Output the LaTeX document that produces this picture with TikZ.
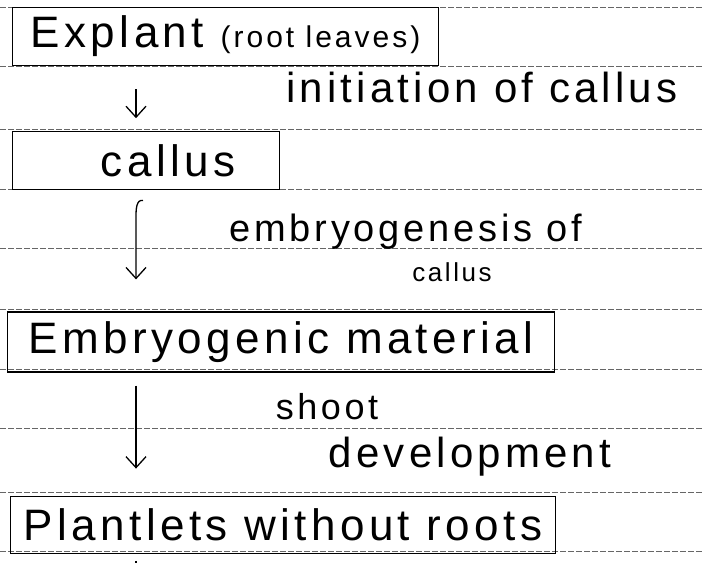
\documentclass[tikz,border=0pt]{standalone}
\usepackage{fontspec}
\setmainfont{Liberation Sans}[LetterSpace=10]
\usetikzlibrary{arrows.meta,positioning,calc}

\begin{document}
\begin{tikzpicture}[
    x=1pt, y=1pt,
    stage/.style={draw, line width=1.2pt, minimum height=58pt, inner sep=0pt,
      anchor=north west, font=\fontsize{44}{50}\selectfont},
    note/.style={inner sep=0pt, font=\fontsize{36}{40}\selectfont},
    rule/.style={black!60, dash pattern=on 6pt off 2pt, line width=0.9pt},
    arrow/.style={-{Straight Barb[length=11pt,width=20pt,line width=1.3pt]}, line width=1.3pt}
  ]
    \useasboundingbox (0,0) rectangle (702,565);
    \foreach \y in {558,499,436,376,317,256,196,137,73,14}
      \draw[rule] (0,\y) -- (702,\y);
    \coordinate (spine) at (136,565);
    \coordinate (tail) at (136,2);
    \node[stage, minimum width=426pt] (explant) at (12,558)
      {Explant {\fontsize{30}{34}\selectfont(root leaves)}};
    \node[stage, minimum width=267pt, below=65pt of explant.south west, anchor=north west] (callus)
      {\hspace*{44pt}callus};
    \node[stage, minimum width=547pt, below=121pt of callus.south west, anchor=north west,
      xshift=-5pt, minimum height=60pt] (embryo) {Embryogenic material};
    \node[stage, minimum width=545pt, below=123pt of embryo.south west, anchor=north west,
      xshift=3pt, minimum height=57pt] (plantlets) {Plantlets without roots};
    \node[note, font=\fontsize{42}{46}\selectfont] (initiation) at (482,478) {initiation of callus};
    \node[note, font=\fontsize{38}{42}\selectfont] (embryogenesis) at (406,333) {embryogenesis of};
    \node[note, font=\fontsize{26}{30}\selectfont] (ofcallus) at (452,293) {callus};
    \node[note] (shoot) at (327,158) {shoot};
    \node[note, font=\fontsize{42}{46}\selectfont] (development) at (470,108) {development};
    \draw[arrow, shorten <=23pt, shorten >=13pt] (explant.south -| spine) -- (callus.north -| spine);
    \draw[arrow, shorten >=32pt] ($(callus.south -| spine)+(7,-10)$) to[out=170,in=90]
      ($(callus.south -| spine)+(0,-26)$) -- (embryo.north -| spine);
    \draw[arrow, shorten <=13pt, shorten >=27pt] (embryo.south -| spine) -- (plantlets.north -| spine);
    \draw[line width=1.3pt, shorten <=7pt] (plantlets.south -| spine) -- (tail);
  \end{tikzpicture}
\end{document}
